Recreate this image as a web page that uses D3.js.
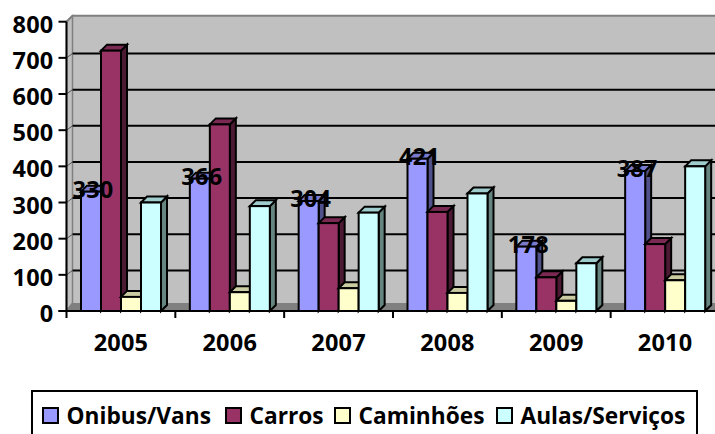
<!DOCTYPE html>
<html><head><meta charset="utf-8">
<script src="https://cdn.jsdelivr.net/npm/d3@7"></script>
<style>html,body{margin:0;padding:0;background:#fff;overflow:hidden}svg{display:block}text{font-family:"Open Sans",sans-serif;font-weight:700;fill:#000}</style>
</head><body><div id="c"></div>
<script>
const categories=["2005","2006","2007","2008","2009","2010"];
const seriesNames=["Onibus/Vans","Carros","Caminhões","Aulas/Serviços"];
const onibus=[330,366,304,421,178,387];
const carros=[720,516,243,274,93,185];
const caminhoes=[39,52,63,50,28,85];
const aulas=[300,290,272,325,132,400];
const yTicks=[0,100,200,300,400,500,600,700,800];
const fronts=["#9999ff","#993366","#ffffcc","#ccffff"];
const tops=["#7a7acc","#7a2952","#cccca3","#9fcccc"];
const sides=["#50508a","#4d1a33","#80806a","#668580"];
const seriesValues=[onibus,carros,caminhoes,aulas];

const W=715,H=434,dx=6,dy=6,gridDy=4.4,fs=23.5,sw=2;
const svg=d3.select("#c").append("svg").attr("width",W).attr("height",H);
const y=d3.scaleLinear().domain([0,800]).range([311,21.7]);
const x=d3.scaleBand().domain(categories).range([66.5,719.5]);
const inner=d3.scaleBand().domain(d3.range(4)).range([14.5,94.5]);
const poly=p=>p.map(q=>q.join(",")).join(" ");
const left=66.5,right=W+2,base=y(0);

// walls and floor
svg.append("rect").attr("x",left+dx).attr("y",y(800)-dy).attr("width",right-left).attr("height",base-y(800)).attr("fill","#c0c0c0");
svg.append("polygon").attr("points",poly([[left,y(800)],[left+dx,y(800)-dy],[left+dx,base-8],[left,base]])).attr("fill","#c0c0c0").attr("stroke","#808080").attr("stroke-width",1.5);
svg.append("polygon").attr("points",poly([[left,base],[left+dx,base-8],[right,base-8],[right,base]])).attr("fill","#808080");
svg.append("line").attr("x1",left+dx).attr("x2",right).attr("y1",y(800)-dy).attr("y2",y(800)-dy).attr("stroke","#808080").attr("stroke-width",2);
svg.append("line").attr("x1",left).attr("x2",left+dx).attr("y1",y(800)).attr("y2",y(800)-dy).attr("stroke","#808080").attr("stroke-width",2);

// gridlines
yTicks.filter(t=>t>0&&t<800).forEach(t=>{
  svg.append("line").attr("x1",left+dx).attr("x2",right).attr("y1",y(t)-gridDy).attr("y2",y(t)-gridDy).attr("stroke","#000").attr("stroke-width",sw);
  svg.append("line").attr("x1",left).attr("x2",left+dx).attr("y1",y(t)).attr("y2",y(t)-gridDy).attr("stroke","#555").attr("stroke-width",1);
});

// bars
categories.forEach((c,ci)=>{
  seriesValues.forEach((vals,si)=>{
    const x0=x(c)+inner(si),x1=x0+inner.bandwidth(),t=y(vals[ci]);
    const g=svg.append("g").attr("stroke","#000").attr("stroke-width",sw).attr("stroke-linejoin","miter");
    g.append("polygon").attr("points",poly([[x1,t],[x1+dx,t-dy],[x1+dx,base-dy],[x1,base]])).attr("fill",sides[si]);
    g.append("polygon").attr("points",poly([[x0,t],[x0+dx,t-dy],[x1+dx,t-dy],[x1,t]])).attr("fill",tops[si]);
    g.append("rect").attr("x",x0).attr("y",t).attr("width",x1-x0).attr("height",base-t).attr("fill",fronts[si]);
  });
});

// axes
const yAxis=svg.append("g");
yAxis.append("line").attr("x1",left).attr("x2",left).attr("y1",y(800)).attr("y2",base+7).attr("stroke","#000").attr("stroke-width",sw);
svg.append("line").attr("x1",left-8).attr("x2",right).attr("y1",base).attr("y2",base).attr("stroke","#000").attr("stroke-width",sw);
yTicks.forEach(t=>{
  yAxis.append("line").attr("x1",left-8).attr("x2",left).attr("y1",y(t)).attr("y2",y(t)).attr("stroke","#000").attr("stroke-width",sw);
  yAxis.append("text").attr("x",53.5).attr("y",y(t)+11).attr("text-anchor","end").attr("font-size",fs).attr("letter-spacing",0.2).text(t);
});
const step=x.step();
categories.forEach((c,i)=>{
  const tx=x(c)+step;
  svg.append("line").attr("x1",tx).attr("x2",tx).attr("y1",base).attr("y2",base+7).attr("stroke","#000").attr("stroke-width",sw);
  svg.append("text").attr("x",x(c)+step/2).attr("y",350.5).attr("text-anchor","middle").attr("font-size",fs).attr("letter-spacing",0.2).text(c);
});

// data labels
categories.forEach((c,i)=>{
  const cx=x(c)+inner(0)+inner.bandwidth()/2+2;
  svg.append("text").attr("x",cx).attr("y",y(onibus[i])+6).attr("text-anchor","middle").attr("font-size",fs).attr("letter-spacing",0.2).text(onibus[i]);
});

// legend
svg.append("rect").attr("x",32).attr("y",391).attr("width",665).attr("height",60).attr("fill","#fff").attr("stroke","#000").attr("stroke-width",sw);
const legendX=[43,226,335,497];
seriesNames.forEach((n,i)=>{
  svg.append("rect").attr("x",legendX[i]).attr("y",408).attr("width",15).attr("height",15).attr("fill",fronts[i]).attr("stroke","#000").attr("stroke-width",sw);
  svg.append("text").attr("x",legendX[i]+23.5).attr("y",424).attr("font-size",22.7).text(n);
});
</script></body></html>
